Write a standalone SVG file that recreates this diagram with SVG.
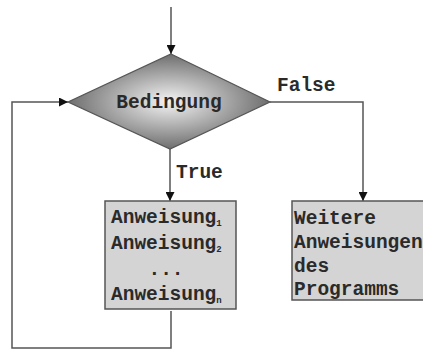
<svg xmlns="http://www.w3.org/2000/svg" width="423" height="352" viewBox="0 0 423 352">
<defs>
<radialGradient id="dg" cx="0.5" cy="0.5" r="0.5">
<stop offset="0" stop-color="#f4f4f4"/>
<stop offset="1" stop-color="#6e6e6e"/>
</radialGradient>
<marker id="ah" viewBox="0 0 10 10" refX="10" refY="5" markerWidth="9" markerHeight="9" markerUnits="userSpaceOnUse" orient="auto">
<path d="M0,0 L10,5 L0,10 z" fill="#111"/>
</marker>
</defs>
<style>
.t{font-family:"Liberation Mono","Courier New",monospace;font-weight:bold;font-size:19.5px;fill:#2a2a2a}
.s{font-size:9px}
.c{fill:none;stroke:#555;stroke-width:1.5}
.b{fill:#d4d4d4;stroke:#555;stroke-width:1.5}
</style>
<g id="connectors">
<line class="c" x1="171" y1="7" x2="171" y2="54" marker-end="url(#ah)"/>
<polyline class="c" points="270,102 363,102 363,201" marker-end="url(#ah)"/>
<line class="c" x1="170" y1="149" x2="170" y2="201" marker-end="url(#ah)"/>
<polyline class="c" points="171,311 171,348 12,348 12,102 68,102" marker-end="url(#ah)"/>
<text class="t" x="277" y="91">False</text>
<text class="t" x="176" y="178">True</text>
</g>
<g id="condition">
<polygon points="171,54 270,102 170,149 68,102" fill="url(#dg)" stroke="#555" stroke-width="1.2"/>
<text class="t" x="169" y="108" text-anchor="middle">Bedingung</text>
</g>
<g id="loop-body">
<rect class="b" x="105" y="201" width="131" height="108"/>
<text class="t" x="111" y="223">Anweisung<tspan class="s" dy="3">1</tspan></text>
<text class="t" x="111" y="249">Anweisung<tspan class="s" dy="3">2</tspan></text>
<text class="t" x="166" y="275" text-anchor="middle">...</text>
<text class="t" x="111" y="300">Anweisung<tspan class="s" dy="3">n</tspan></text>
</g>
<g id="rest">
<rect class="b" x="292" y="201" width="140" height="99"/>
<text class="t" x="294" y="224">Weitere</text>
<text class="t" x="294" y="248">Anweisungen</text>
<text class="t" x="294" y="272">des</text>
<text class="t" x="294" y="295">Programms</text>
</g>
</svg>
